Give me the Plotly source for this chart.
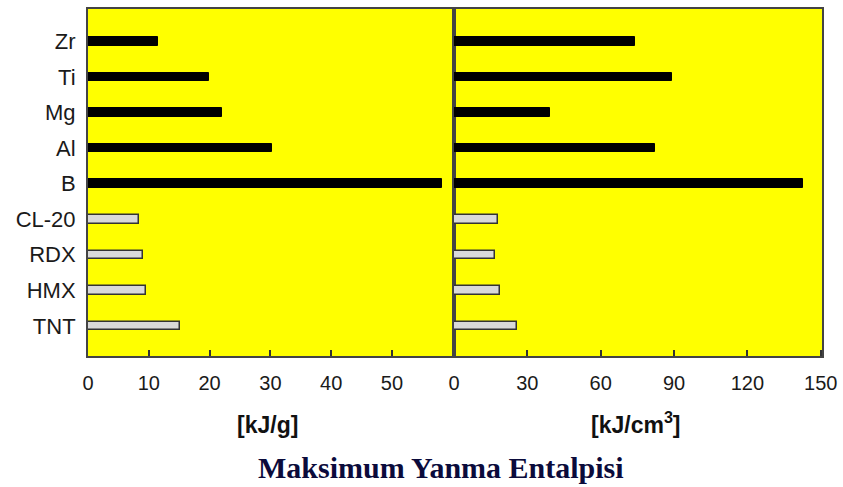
import plotly.graph_objects as go

categories = ["TNT", "HMX", "RDX", "CL-20", "B", "Al", "Mg", "Ti", "Zr"]
metals = ["B", "Al", "Mg", "Ti", "Zr"]
explosives = ["TNT", "HMX", "RDX", "CL-20"]

grav_metals = [58.2, 30.3, 22.0, 19.9, 11.5]
grav_expl = [15.1, 9.6, 9.1, 8.4]
vol_metals = [142.9, 82.3, 39.2, 89.0, 74.2]
vol_expl = [25.6, 18.8, 16.7, 17.8]

left_ticks = [0, 10, 20, 30, 40, 50]
right_ticks = [0, 30, 60, 90, 120, 150]

W, H = 843, 487
x0, xm, x1 = 88, 454, 822
ytop, ybot = 9, 356

fig = go.Figure()
bw = 0.24
for xa, ya, mv, ev in [("x", "y", grav_metals, grav_expl), ("x2", "y2", vol_metals, vol_expl)]:
    fig.add_trace(go.Bar(y=metals, x=mv, orientation="h", width=bw,
                         marker=dict(color="black", line=dict(color="black", width=1)),
                         xaxis=xa, yaxis=ya, showlegend=False))
    fig.add_trace(go.Bar(y=explosives, x=ev, orientation="h", width=bw,
                         marker=dict(color="#d9d9d9", line=dict(color="#333333", width=1.5)),
                         xaxis=xa, yaxis=ya, showlegend=False))

sans = "Liberation Sans, Arial, sans-serif"
xfont = dict(family=sans, size=20, color="#1a1a1a")
yfont = dict(family=sans, size=22, color="#1a1a1a")
common_x = dict(showline=True, linecolor="#444444", linewidth=2, mirror=True,
                ticks="inside", ticklen=6, tickwidth=1.5, tickcolor="#333333",
                showgrid=False, zeroline=False, tickfont=xfont, ticklabelstandoff=8,
                automargin=False)
common_y = dict(type="category", categoryorder="array", categoryarray=categories,
                range=[-0.85, 8.92], showline=True, linecolor="#444444", linewidth=2,
                mirror=True, showgrid=False, zeroline=False, ticks="", automargin=False)

yd = [1 - ybot / H, 1 - ytop / H]
fig.update_layout(
    width=W, height=H, autosize=False,
    margin=dict(l=0, r=0, t=0, b=0),
    paper_bgcolor="white",
    plot_bgcolor="#ffff00",
    bargap=0,
    xaxis=dict(domain=[x0 / W, xm / W], range=[0, 60.2], tickvals=left_ticks, **common_x),
    xaxis2=dict(domain=[xm / W, x1 / W], range=[0, 150.5], tickvals=right_ticks, anchor="y2", **common_x),
    yaxis=dict(domain=yd, anchor="x", tickfont=yfont, ticklabelstandoff=6, **common_y),
    yaxis2=dict(domain=yd, anchor="x2", showticklabels=False, **common_y),
    annotations=[
        dict(text="<b>[kJ/g]</b>", x=267 / W, y=1 - 425 / H, xref="paper", yref="paper",
             xanchor="center", yanchor="middle",
             showarrow=False, font=dict(family=sans, size=23, color="#111111")),
        dict(text="<b>[kJ/cm<sup>3</sup>]</b>", x=636 / W, y=1 - 423 / H, xref="paper", yref="paper",
             xanchor="center", yanchor="middle",
             showarrow=False, font=dict(family=sans, size=23, color="#111111")),
        dict(text="<b>Maksimum Yanma Entalpisi</b>", x=441 / W, y=1 - 467 / H, xref="paper", yref="paper",
             xanchor="center", yanchor="middle",
             showarrow=False, font=dict(family="Liberation Serif, Times New Roman, serif", size=30, color="#0b0b3b")),
    ],
)

fig.write_html("out.html", config={"displayModeBar": False},
               post_script="document.body.style.margin='0';document.body.style.overflow='hidden';")
